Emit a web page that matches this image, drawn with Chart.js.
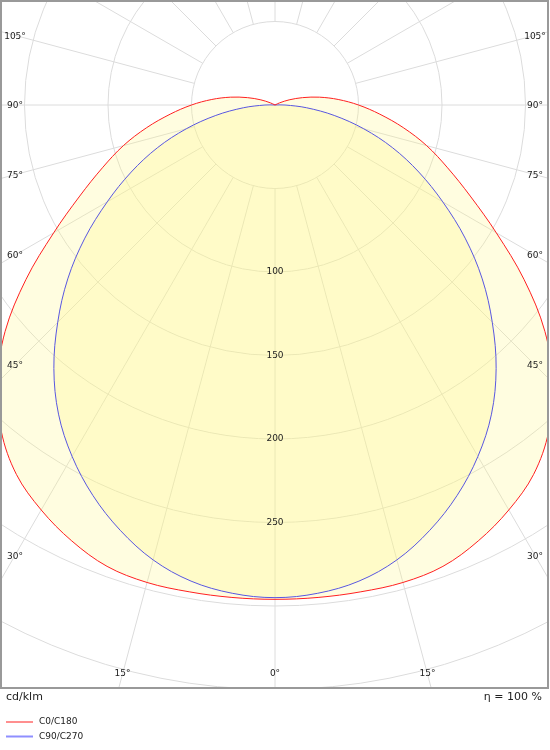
<!DOCTYPE html>
<html>
<head>
<meta charset="utf-8">
<title>Diagrama polar</title>
<script src="https://cdn.jsdelivr.net/npm/chart.js@4.4.1/dist/chart.umd.min.js"></script>
<style>
  body { margin: 0; background: #fff; }
  canvas { display: block; }
</style>
</head>
<body>
<canvas id="myChart" width="550" height="750"></canvas>
<script>
  // gamma angles, degrees from nadir (0 = straight down)
  const angles = [0, 5, 10, 15, 20, 25, 30, 35, 40, 45, 50, 55, 60, 65, 70, 75, 80, 85, 90,
    95, 100, 105, 110, 115, 120, 125, 130, 135, 140, 145, 150, 155, 160, 165, 170, 175, 180];

  // intensity in cd/klm
  const c0c180 = [296, 296, 296, 296, 294, 288, 280, 270, 255, 235, 211, 182, 153, 129, 110, 94, 78, 63, 50,
    38, 27, 17, 9, 3, 0, 0, 0, 0, 0, 0, 0, 0, 0, 0, 0, 0, 0];
  const c90c270 = [295, 293.5, 289.5, 282, 271, 258, 243, 226, 206, 184, 162, 139, 116, 95, 75, 55, 36, 19, 6,
    0, 0, 0, 0, 0, 0, 0, 0, 0, 0, 0, 0, 0, 0, 0, 0, 0, 0];

  const seriesNames = ['C0/C180', 'C90/C270'];
  const ringValues = [50, 100, 150, 200, 250, 300, 350, 400];
  const ringLabels = [100, 150, 200, 250];
  const sideAngleLabels = [30, 45, 60, 75, 90, 105];
  const bottomAngleLabels = [0, 15];
  const unitText = 'cd/klm';
  const efficiencyText = 'η = 100 %';

  // page geometry
  const PX_PER_UNIT = 1.67;
  const CENTER_X = 275, CENTER_Y = 105;
  const AREA = { left: 1, top: 1, right: 549, bottom: 688 };

  // turns the polar curve (one half) into a closed shape, mirrored on both sides
  function polarToPoints(values) {
    const pts = [];
    for (let i = angles.length - 1; i >= 0; i--) {
      const r = angles[i] * Math.PI / 180;
      pts.push({ x: -values[i] * Math.sin(r), y: -values[i] * Math.cos(r) });
    }
    for (let i = 1; i < angles.length; i++) {
      const r = angles[i] * Math.PI / 180;
      pts.push({ x: values[i] * Math.sin(r), y: -values[i] * Math.cos(r) });
    }
    return pts;
  }

  const polarGrid = {
    id: 'polarGrid',
    beforeDatasetsDraw(chart) {
      const { ctx, chartArea: a, scales: { x, y } } = chart;
      const cx = x.getPixelForValue(0), cy = y.getPixelForValue(0);
      const unit = x.getPixelForValue(1) - cx;
      ctx.save();
      ctx.beginPath();
      ctx.rect(a.left, a.top, a.right - a.left, a.bottom - a.top);
      ctx.clip();
      ctx.strokeStyle = '#dcdcdc';
      ctx.lineWidth = 1;
      ringValues.forEach(v => {
        ctx.beginPath();
        ctx.arc(cx, cy, v * unit, 0, Math.PI * 2);
        ctx.stroke();
      });
      for (let g = 0; g < 360; g += 15) {
        const rad = g * Math.PI / 180;
        const dx = Math.sin(rad), dy = Math.cos(rad);
        ctx.beginPath();
        ctx.moveTo(cx + dx * 50 * unit, cy + dy * 50 * unit);
        ctx.lineTo(cx + dx * 500 * unit, cy + dy * 500 * unit);
        ctx.stroke();
      }
      ctx.restore();
    },
    afterDatasetsDraw(chart) {
      const { ctx, chartArea: a, scales: { x, y } } = chart;
      const cx = x.getPixelForValue(0), cy = y.getPixelForValue(0);
      const unit = x.getPixelForValue(1) - cx;
      ctx.save();
      ctx.fillStyle = '#222';
      ctx.font = '9px "DejaVu Sans"';
      ctx.textAlign = 'center';
      ctx.textBaseline = 'middle';
      // intensity labels along the 0 degree line
      ringLabels.forEach(v => ctx.fillText(String(v), cx, cy + v * unit));
      // angle labels near the left and right edges
      sideAngleLabels.forEach(g => {
        const cot = Math.cos(g * Math.PI / 180) / Math.sin(g * Math.PI / 180);
        const ly = cy + (cx - a.left - 14) * cot + 1;
        ctx.fillText(g + '°', a.left + 14, ly);
        ctx.fillText(g + '°', a.right - 14, ly);
      });
      // angle labels near the bottom
      bottomAngleLabels.forEach(g => {
        const ly = a.bottom - 14;
        const off = (ly - cy) * Math.tan(g * Math.PI / 180);
        ctx.fillText(g + '°', cx - off, ly);
        if (g !== 0) ctx.fillText(g + '°', cx + off, ly);
      });
      ctx.restore();
    },
    afterDraw(chart) {
      const { ctx, chartArea: a } = chart;
      ctx.save();
      // frame
      ctx.strokeStyle = '#999';
      ctx.lineWidth = 2;
      ctx.strokeRect(1, 1, a.right - 2, a.bottom - 1);
      // footer texts
      ctx.fillStyle = '#222';
      ctx.font = '11px "DejaVu Sans"';
      ctx.textBaseline = 'middle';
      ctx.textAlign = 'left';
      ctx.fillText(unitText, 6, 697);
      ctx.textAlign = 'right';
      ctx.fillText(efficiencyText, 542, 697);
      // legend, one item per row
      ctx.font = '9px "DejaVu Sans"';
      ctx.textAlign = 'left';
      chart.data.datasets.forEach((ds, i) => {
        const ly = 722 + i * 14.5;
        ctx.strokeStyle = ds.borderColor;
        ctx.globalAlpha = 0.5;
        ctx.lineWidth = 2;
        ctx.beginPath();
        ctx.moveTo(6, ly);
        ctx.lineTo(33, ly);
        ctx.stroke();
        ctx.globalAlpha = 1;
        ctx.fillText(ds.label, 39, ly);
      });
      ctx.restore();
    }
  };

  const ctx = document.getElementById('myChart').getContext('2d');

  const config = {
    type: 'scatter',
    data: {
      datasets: [{
        label: seriesNames[0],
        data: polarToPoints(c0c180),
        showLine: true,
        borderColor: '#ff2020',
        borderWidth: 1,
        backgroundColor: 'rgba(255, 248, 130, 0.25)',
        fill: 'shape',
        pointRadius: 0,
        tension: 0.35
      }, {
        label: seriesNames[1],
        data: polarToPoints(c90c270),
        showLine: true,
        borderColor: '#2020ff',
        borderWidth: 1,
        backgroundColor: 'rgba(255, 248, 130, 0.25)',
        fill: 'shape',
        pointRadius: 0,
        tension: 0.35
      }]
    },
    options: {
      responsive: false,
      animation: false,
      layout: {
        padding: { left: AREA.left, top: AREA.top, right: 550 - AREA.right, bottom: 750 - AREA.bottom }
      },
      scales: {
        x: {
          type: 'linear', display: false,
          min: -(CENTER_X - AREA.left) / PX_PER_UNIT,
          max: (AREA.right - CENTER_X) / PX_PER_UNIT
        },
        y: {
          type: 'linear', display: false,
          min: -(AREA.bottom - CENTER_Y) / PX_PER_UNIT,
          max: (CENTER_Y - AREA.top) / PX_PER_UNIT
        }
      },
      plugins: {
        legend: { display: false },
        tooltip: { enabled: false }
      }
    },
    plugins: [polarGrid]
  };

  window.myChart = new Chart(ctx, config);
</script>
</body>
</html>
